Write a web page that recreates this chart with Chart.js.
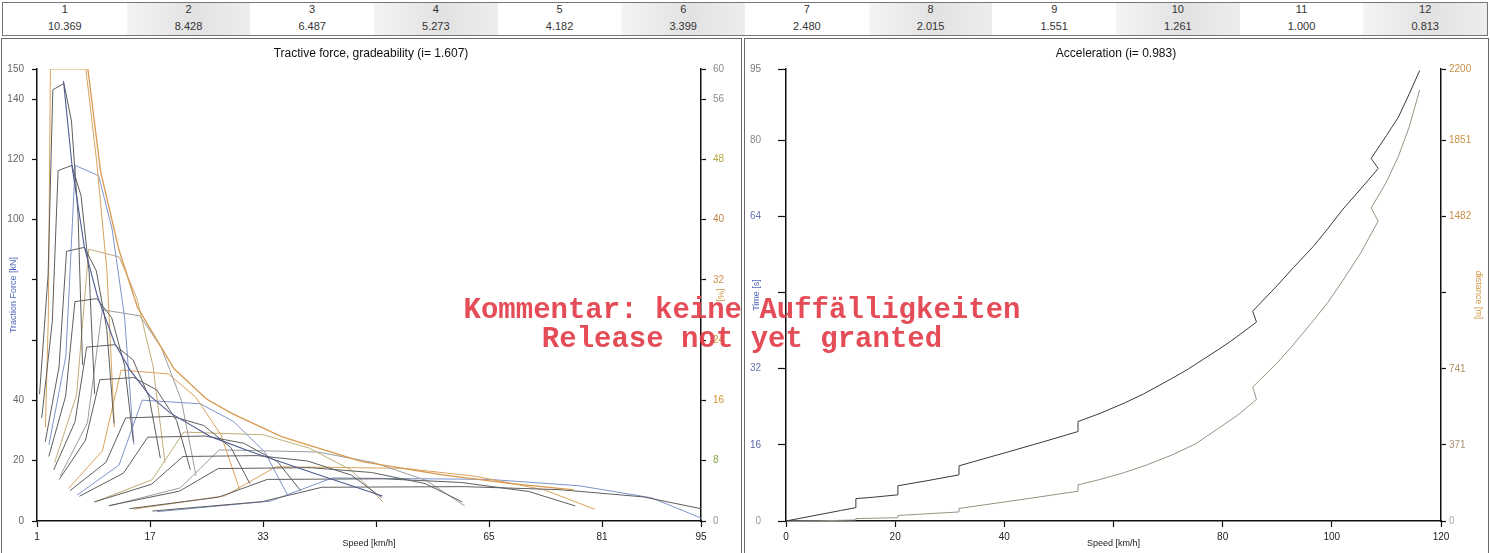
<!DOCTYPE html>
<html>
<head>
<meta charset="utf-8">
<title>Tractive force / Acceleration</title>
<script src="https://cdn.jsdelivr.net/npm/chart.js@4.4.1/dist/chart.umd.min.js"></script>
<style>
    html, body { margin: 0; padding: 0; background: #fff; overflow: hidden; }
    body { width: 1490px; height: 553px; position: relative; font-family: Arial, "Liberation Sans", sans-serif; }
    #gearTable { position: absolute; left: 2px; top: 2px; width: 1484px; height: 32px; border: 1px solid #777; display: flex; }
    .gear-cell { flex: 1; text-align: center; font-size: 11px; color: #333; }
    .gear-cell .num { line-height: 12px; height: 12px; }
    .gear-cell .ratio { line-height: 22px; }
    .gear-cell.shaded { background: linear-gradient(to right, #f4f4f4, #e2e2e2 55%, #ededed); }
    .panel { position: absolute; top: 38px; height: 540px; border: 1px solid #6a6a6a; box-sizing: border-box; }
    #leftPanel { left: 1px; width: 741px; }
    #rightPanel { left: 744px; width: 745px; }
    .chart-box { position: absolute; top: 39px; height: 512px; }
    #tractionBox { left: 3px; width: 736px; }
    #accelBox { left: 746px; width: 740px; }
    #watermark { position: absolute; left: -6px; width: 1496px; top: 296px; text-align: center; white-space: pre;
                 font: bold 29px "Liberation Mono", "Courier New", monospace; line-height: 29px; color: rgba(226, 62, 74, 0.92); }
</style>
</head>
<body>
<div id="gearTable"></div>
<div class="panel" id="leftPanel"></div>
<div class="panel" id="rightPanel"></div>
<div class="chart-box" id="tractionBox"><canvas id="tractionChart"></canvas></div>
<div class="chart-box" id="accelBox"><canvas id="accelChart"></canvas></div>
<div id="watermark">Kommentar: keine Auffälligkeiten
Release not yet granted</div>

<script>
// Gear table
const gearNumbers = [1, 2, 3, 4, 5, 6, 7, 8, 9, 10, 11, 12];
const gearRatios = [10.369, 8.428, 6.487, 5.273, 4.182, 3.399, 2.480, 2.015, 1.551, 1.261, 1.000, 0.813];

// Tractive force per gear, first set (speed km/h / force kN)
const speedA = [
    [1.36, 2.57, 3.24, 4.82, 5.88, 6.81, 7.45],
    [1.67, 3.17, 3.99, 5.93, 7.24, 8.38, 9.16],
    [2.17, 4.12, 5.18, 7.71, 9.40, 10.88, 11.90],
    [2.67, 5.06, 6.37, 9.48, 11.57, 13.39, 14.64],
    [3.37, 6.38, 8.03, 11.96, 14.59, 16.88, 18.46],
    [4.15, 7.86, 9.89, 14.71, 17.95, 20.77, 22.71],
    [5.69, 10.77, 13.55, 20.16, 24.60, 28.47, 31.13],
    [7.00, 13.25, 16.67, 24.81, 30.27, 35.04, 38.31],
    [9.09, 17.21, 21.66, 32.24, 39.33, 45.52, 49.77],
    [11.18, 21.17, 26.65, 39.65, 48.37, 55.99, 61.22],
    [14.10, 26.70, 33.60, 50.00, 61.00, 70.60, 77.20],
    [17.34, 32.84, 41.33, 61.50, 75.03, 86.84, 94.96]
];
const forceA = [
    [42.1, 81.6, 143.1, 145.2, 132.7, 101.6, 51.8],
    [34.2, 66.3, 116.3, 118.0, 107.9, 82.6, 42.1],
    [26.3, 51.1, 89.5, 90.8, 83.0, 63.6, 32.4],
    [21.4, 41.5, 72.8, 73.8, 67.5, 51.7, 26.4],
    [17.0, 32.9, 57.7, 58.5, 53.5, 41.0, 20.9],
    [13.8, 26.8, 46.9, 47.6, 43.5, 33.3, 17.0],
    [10.1, 19.5, 34.2, 34.7, 31.7, 24.3, 12.4],
    [8.2, 15.9, 27.8, 28.2, 25.8, 19.7, 10.1],
    [6.3, 12.2, 21.4, 21.7, 19.9, 15.2, 7.8],
    [5.1, 9.9, 17.4, 17.7, 16.1, 12.4, 6.3],
    [4.1, 7.9, 13.8, 14.0, 12.8, 9.8, 5.0],
    [3.3, 6.4, 11.2, 11.4, 10.4, 8.0, 4.1]
];

// Tractive force per gear, second set (coloured curves)
const speedB = [
    [2.19, 2.60, 2.90, 7.91, 9.45, 10.90, 11.96],
    [2.69, 5.09, 6.41, 9.73, 11.63, 13.41, 14.71],
    [3.50, 6.61, 8.32, 12.64, 15.11, 17.42, 19.12],
    [4.30, 8.14, 10.24, 15.55, 18.59, 21.43, 23.52],
    [5.43, 10.26, 12.91, 19.61, 23.43, 27.02, 29.65],
    [6.68, 12.62, 15.89, 24.12, 28.83, 33.24, 36.48],
    [9.15, 17.30, 21.77, 33.06, 39.52, 45.56, 50.00],
    [11.27, 21.29, 26.80, 40.69, 48.64, 56.08, 61.54],
    [14.64, 27.66, 34.82, 52.87, 63.19, 72.86, 79.95],
    [18.00, 34.02, 42.82, 65.03, 77.72, 88.00, 95.00]
];
const forceB = [
    [31.1, 67.0, 150.0, 150.0, 119.2, 83.0, 31.1],
    [25.3, 54.8, 118.0, 114.6, 96.9, 67.4, 25.3],
    [19.4, 41.9, 90.2, 87.6, 74.1, 51.5, 19.4],
    [15.0, 32.6, 70.1, 68.1, 57.6, 40.1, 15.0],
    [10.7, 23.3, 50.1, 48.8, 41.2, 28.7, 10.7],
    [8.6, 18.6, 40.1, 38.9, 33.0, 22.9, 8.6],
    [6.3, 13.7, 29.5, 28.6, 24.2, 16.8, 6.3],
    [5.0, 11.0, 23.6, 22.9, 19.4, 13.5, 5.0],
    [3.9, 8.4, 18.0, 17.5, 14.8, 10.3, 3.9],
    [3.1, 6.6, 14.3, 13.8, 11.7, 7.7, 1.0]
];

// Envelope lines
const envelopeSpeed = [8.2, 10, 12.6, 15.2, 20.4, 25, 28.5, 35.6, 47, 58.4, 67.9, 77];
const envelopeForce = [150, 116, 90, 71, 50.5, 40.5, 35.8, 28, 19.7, 15.3, 12.5, 10.3];
const limitSpeed = [4.75, 6, 7.7, 9.5, 12, 14.2, 17, 19.9, 25.6, 31.3, 40, 49.9];
const limitForce = [146, 117, 91, 75, 59, 50, 41.5, 35.8, 28, 23, 16, 8.3];

// Axis ticks, left chart
const speedTicks = [1, 17, 33, 49, 65, 81, 95];
const forceTicks = [0, 20, 40, 60, 80, 100, 120, 140, 150];
const gradeTicks = [0, 8, 16, 24, 32, 40, 48, 56, 60];

// Acceleration (speed km/h -> time s, distance m)
const timeSpeed = [0, 5, 10, 12.8, 12.8, 16, 20.5, 20.5, 26, 31.7, 31.7, 40, 47, 53.5, 53.5, 57.5, 62, 65.5, 70.6, 73.5, 79.3, 81.5, 86.2, 85.5, 90, 93, 96.6, 99.3, 102, 105.3, 108.5, 107.2, 110, 112.2, 114.2, 116.1];
const timeValues = [0, 1.1, 2.2, 2.8, 4.7, 5.0, 5.5, 7.4, 8.5, 9.7, 11.6, 14.3, 16.6, 18.8, 20.9, 22.6, 24.8, 26.7, 29.9, 31.8, 36.1, 37.8, 41.8, 44.1, 49.5, 53.3, 57.7, 61.5, 65.5, 69.8, 74.1, 76.2, 81.0, 84.9, 89.8, 94.7];
const distSpeed = [0, 6, 12.8, 12.8, 20.5, 20.5, 31.7, 31.7, 44.6, 53.5, 53.5, 57.5, 62, 66, 70.6, 75, 79.3, 83, 86.2, 85.5, 90, 93, 96.6, 99.3, 102, 105.3, 108.5, 107.2, 110, 112.2, 114.2, 116.1];
const distValues = [0, 1, 5, 12, 16, 27, 44, 61, 110, 145, 176, 202, 236, 272, 320, 375, 452, 520, 592, 652, 770, 860, 975, 1065, 1170, 1305, 1460, 1523, 1650, 1775, 1920, 2099];

// Axis ticks, right chart
const timeTicks = [0, 16, 32, 48, 64, 80, 95];
const distTicks = [0, 371, 741, 1112, 1482, 1851, 2200];

const rangeColors = ['#d9a35c', '#7d93c9', '#c2ad7a', '#9c9c9c'];
const gradeColors = { 0: '#9a9a9a', 8: '#86a844', 16: '#d4952f', 24: '#d4952f', 32: '#d0924e', 40: '#c0834a', 48: '#b9a544', 56: '#8a8a8a', 60: '#8a8a8a' };
const timeColors = { 0: '#999', 16: '#5566aa', 32: '#6475b0', 48: '#6475b0', 64: '#6475b0', 80: '#888', 95: '#777' };
const distColors = { 0: '#aaa', 371: '#a89272', 741: '#b09060', 1112: '#c89048', 1482: '#c89048', 1851: '#c89048', 2200: '#c89048' };

const toPoints = (xs, ys) => xs.map((x, i) => ({ x: x, y: ys[i] }));
const fixedTicks = list => axis => { axis.ticks = list.map(v => ({ value: v })); };
const hideTicks = list => value => list.includes(value) ? '' : value;

Chart.defaults.font.family = 'Arial, "Liberation Sans", sans-serif';
Chart.defaults.animation = false;

// Build the gear table
document.addEventListener('DOMContentLoaded', function () {
    const table = document.getElementById('gearTable');
    gearNumbers.forEach((n, i) => {
        const cell = document.createElement('div');
        cell.className = 'gear-cell' + (i % 2 === 1 ? ' shaded' : '');
        cell.innerHTML = '<div class="num">' + n + '</div><div class="ratio">' + gearRatios[i].toFixed(3) + '</div>';
        table.appendChild(cell);
    });
});

function axisBase(extra) {
    return Object.assign({
        type: 'linear',
        grid: { drawOnChartArea: false, drawTicks: true, tickLength: 5, tickColor: '#111', tickWidth: 1.2 },
        border: { display: true, color: '#111', width: 1.5 }
    }, extra);
}

// Tractive force chart
document.addEventListener('DOMContentLoaded', function () {
    const ctx = document.getElementById('tractionChart').getContext('2d');

    const datasets = [];
    datasets.push({ data: toPoints(envelopeSpeed, envelopeForce), borderColor: '#d8994f', borderWidth: 1.3 });
    datasets.push({ data: toPoints(limitSpeed, limitForce), borderColor: '#515c92', borderWidth: 1.1 });
    speedA.forEach((row, k) => {
        datasets.push({ data: toPoints(row, forceA[k]), borderColor: '#5e5e5e', borderWidth: 1 });
    });
    speedB.forEach((row, k) => {
        datasets.push({ data: toPoints(row, forceB[k]), borderColor: rangeColors[k % rangeColors.length], borderWidth: 1 });
    });

    new Chart(ctx, {
        type: 'line',
        data: { datasets: datasets },
        options: {
            responsive: true,
            maintainAspectRatio: false,
            layout: { padding: 0 },
            elements: { point: { radius: 0 }, line: { tension: 0, fill: false } },
            plugins: {
                legend: { display: false },
                tooltip: { enabled: false },
                title: {
                    display: true,
                    text: 'Tractive force, gradeability (i= 1.607)',
                    color: '#111',
                    font: { size: 12, weight: 'normal' },
                    padding: { top: 7, bottom: 8.6 }
                }
            },
            scales: {
                x: axisBase({
                    position: 'bottom',
                    min: 1, max: 95,
                    afterBuildTicks: fixedTicks(speedTicks),
                    afterFit: scale => { scale.height = 30; },
                    grid: { drawOnChartArea: false, drawTicks: true, tickLength: 6, tickColor: '#111', tickWidth: 1.2 },
                    ticks: { color: '#222', font: { size: 10 }, padding: 4, maxRotation: 0, callback: hideTicks([49]) },
                    title: { display: true, text: 'Speed [km/h]', color: '#222', font: { size: 9 }, padding: { top: 0, bottom: 2 } }
                }),
                y: axisBase({
                    position: 'left',
                    min: 0, max: 150,
                    afterBuildTicks: fixedTicks(forceTicks),
                    afterFit: scale => { scale.width = 34; },
                    ticks: { color: '#666', font: { size: 10 }, padding: 8, callback: hideTicks([60, 80]) },
                    title: { display: true, text: 'Traction Force [kN]', color: '#5068b8', font: { size: 9 }, padding: { top: 5.6, bottom: 0 } }
                }),
                grade: axisBase({
                    position: 'right',
                    min: 0, max: 60,
                    afterBuildTicks: fixedTicks(gradeTicks),
                    afterFit: scale => { scale.width = 38; },
                    ticks: { font: { size: 10 }, padding: 7, color: c => gradeColors[c.tick.value] || '#888' },
                    title: { display: true, text: '[%]', color: '#d4943f', font: { size: 9 }, padding: { top: 13, bottom: 0 } }
                })
            }
        }
    });
});

// Acceleration chart
document.addEventListener('DOMContentLoaded', function () {
    const ctx = document.getElementById('accelChart').getContext('2d');

    new Chart(ctx, {
        type: 'line',
        data: {
            datasets: [{
                label: 'Time [s]',
                data: toPoints(timeSpeed, timeValues),
                borderColor: '#3a3a3a',
                borderWidth: 1,
                yAxisID: 'y'
            }, {
                label: 'distance [m]',
                data: toPoints(distSpeed, distValues),
                borderColor: '#9b9082',
                borderWidth: 1,
                yAxisID: 'y1'
            }]
        },
        options: {
            responsive: true,
            maintainAspectRatio: false,
            layout: { padding: 0 },
            elements: { point: { radius: 0 }, line: { tension: 0, fill: false } },
            plugins: {
                legend: { display: false },
                tooltip: { enabled: false },
                title: {
                    display: true,
                    text: 'Acceleration (i= 0.983)',
                    color: '#111',
                    font: { size: 12, weight: 'normal' },
                    padding: { top: 7, bottom: 8.6 }
                }
            },
            scales: {
                x: axisBase({
                    position: 'bottom',
                    min: 0, max: 120,
                    afterFit: scale => { scale.height = 30; },
                    grid: { drawOnChartArea: false, drawTicks: true, tickLength: 6, tickColor: '#111', tickWidth: 1.2 },
                    ticks: { stepSize: 20, color: '#222', font: { size: 10 }, padding: 4, maxRotation: 0, callback: hideTicks([60]) },
                    title: { display: true, text: 'Speed [km/h]', color: '#222', font: { size: 9 }, padding: { top: 0, bottom: 2 } }
                }),
                y: axisBase({
                    position: 'left',
                    min: 0, max: 95,
                    afterBuildTicks: fixedTicks(timeTicks),
                    afterFit: scale => { scale.width = 40; },
                    grid: { drawOnChartArea: false, drawTicks: true, tickLength: 8, tickColor: '#111', tickWidth: 1.2 },
                    ticks: { font: { size: 10 }, padding: 17, color: c => timeColors[c.tick.value] || '#888', callback: hideTicks([48]) },
                    title: { display: true, text: 'Time [s]', color: '#5068b8', font: { size: 9 }, padding: { top: 5.6, bottom: 0 } }
                }),
                y1: axisBase({
                    position: 'right',
                    min: 0, max: 2200,
                    afterBuildTicks: fixedTicks(distTicks),
                    afterFit: scale => { scale.width = 45; },
                    ticks: { font: { size: 10 }, padding: 3, color: c => distColors[c.tick.value] || '#c89048', callback: hideTicks([1112]) },
                    title: { display: true, text: 'distance [m]', color: '#d4943f', font: { size: 9 }, padding: { top: 2.6, bottom: 0 } }
                })
            }
        }
    });
});
</script>
</body>
</html>
